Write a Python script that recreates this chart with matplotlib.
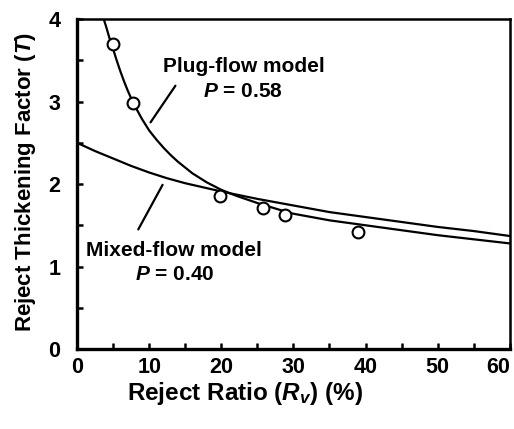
import matplotlib
matplotlib.use("Agg")
import matplotlib.pyplot as plt
from matplotlib.ticker import MultipleLocator

# measured points
reject_ratio = [5.0, 7.8, 19.8, 25.8, 28.8, 38.9]
thickening = [3.70, 2.98, 1.85, 1.71, 1.63, 1.42]

# plug-flow model curve (P = 0.58)
plug_x = [3.7, 4.0, 4.5, 5, 5.5, 6, 6.5, 7, 7.5, 8, 9, 10, 11, 12, 13, 14, 15, 16,
          18, 20, 22, 25, 28, 30, 35, 40, 45, 50, 55, 60]
plug_y = [4.0, 3.92, 3.77, 3.64, 3.50, 3.37, 3.25, 3.14, 3.04, 2.95, 2.79, 2.65,
          2.54, 2.44, 2.35, 2.27, 2.20, 2.13, 2.02, 1.93, 1.86, 1.77, 1.69, 1.64,
          1.56, 1.50, 1.44, 1.38, 1.33, 1.28]

# mixed-flow model curve (P = 0.40)
mixed_x = [0, 2.5, 5, 7.5, 10, 12.5, 15, 17.5, 20, 25, 30, 35, 40, 45, 50, 55, 60]
mixed_y = [2.50, 2.40, 2.31, 2.22, 2.14, 2.07, 2.01, 1.96, 1.91, 1.82, 1.74, 1.66,
           1.60, 1.54, 1.48, 1.43, 1.37]

x_ticks = [0, 10, 20, 30, 40, 50, 60]
y_ticks = [0, 1, 2, 3, 4]

plt.rcParams['mathtext.fontset'] = 'custom'
plt.rcParams['mathtext.it'] = 'Liberation Sans:italic:bold'
plt.rcParams['mathtext.rm'] = 'Liberation Sans:bold'

tick_font = ['DejaVu Sans Condensed', 'Liberation Sans Narrow', 'Liberation Sans']
label_font = ['Liberation Sans', 'DejaVu Sans']

fig = plt.figure(figsize=(5.14, 4.29), dpi=100)
ax = fig.add_axes([0.1498, 0.1865, 0.842, 0.769])

ax.plot(plug_x, plug_y, color='black', lw=1.6)
ax.plot(mixed_x, mixed_y, color='black', lw=1.6)
ax.plot(reject_ratio, thickening, 'o', mfc='white', mec='black', ms=8.5, mew=1.5)

ax.set_xlim(0, 60)
ax.set_ylim(0, 4)
ax.set_xticks(x_ticks)
ax.set_yticks(y_ticks)
ax.xaxis.set_minor_locator(MultipleLocator(5))
ax.yaxis.set_minor_locator(MultipleLocator(0.5))
ax.tick_params(which='both', direction='in', top=False, right=False, width=1.8, length=4)
ax.tick_params(axis='x', pad=6)
ax.tick_params(axis='y', pad=12)
for sp in ax.spines.values():
    sp.set_linewidth(1.8)
ax.spines['left'].set_linewidth(2.4)
ax.spines['bottom'].set_linewidth(2.4)

for lab in ax.get_xticklabels() + ax.get_yticklabels():
    lab.set_family(tick_font)
    lab.set_fontsize(15.5)
    lab.set_fontweight('bold')
ax.get_xticklabels()[-1].set_horizontalalignment('right')

ax.set_xlabel('Reject Ratio ($\\mathit{R_v}$) (%)', family=label_font, fontsize=17.5,
              fontweight='bold', va='center')
ax.set_ylabel('Reject Thickening Factor ($\\mathit{T}$)', family=label_font, fontsize=16,
              fontweight='bold', va='center')
ax.xaxis.set_label_coords(0.388, -0.136)
ax.yaxis.set_label_coords(-0.118, 0.506)

ax.text(11.9, 3.42, 'Plug-flow model', family=label_font, fontsize=15, fontweight='bold',
        ha='left', va='center')
ax.text(23.0, 3.12, '$P$ = 0.58', family=label_font, fontsize=15, fontweight='bold',
        ha='center', va='center')
ax.text(13.4, 1.20, 'Mixed-flow model', family=label_font, fontsize=15, fontweight='bold',
        ha='center', va='center')
ax.text(13.6, 0.90, '$P$ = 0.40', family=label_font, fontsize=15, fontweight='bold',
        ha='center', va='center')

ax.annotate('', xy=(9.98, 2.72), xytext=(13.86, 3.22),
            arrowprops=dict(arrowstyle='-', lw=1.6, color='black'))
ax.annotate('', xy=(8.31, 1.42), xytext=(12.05, 2.02),
            arrowprops=dict(arrowstyle='-', lw=1.6, color='black'))

fig.savefig('out.png', dpi=100)
